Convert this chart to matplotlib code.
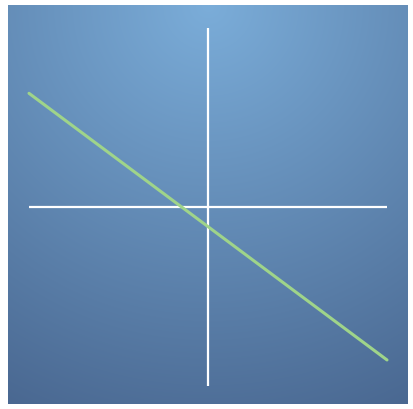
import numpy as np
import matplotlib
matplotlib.use("Agg")
import matplotlib.pyplot as plt

# ── Data ──────────────────────────────────────────────────────────────────────
axis_range = [-10, 10]
line_x = [-10, 10]
line_y = [6.35, -8.55]

BG_LIGHT = np.array([0x7b, 0xad, 0xd9]) / 255
BG_DARK = np.array([0x47, 0x64, 0x8d]) / 255

fig = plt.figure(figsize=(4.14, 4.10), dpi=100)
fig.patch.set_facecolor("white")

# ── Background: radial gradient, bright at top centre ─────────────────────────
bg = fig.add_axes([8 / 414, 5 / 410, 400 / 414, 399 / 410])
bg.set_axis_off()
h, w = 399, 400
yy, xx = np.mgrid[0:h, 0:w]
dist = np.hypot(xx - 200, yy - 0) / 470.0
dist = np.clip(dist, 0, 1)[..., None]
img = BG_LIGHT * (1 - dist) + BG_DARK * dist
bg.imshow(img, aspect="auto", extent=[0, 1, 0, 1], interpolation="bilinear")
bg.set_xlim(0, 1)
bg.set_ylim(0, 1)

# ── Plot ──────────────────────────────────────────────────────────────────────
ax = fig.add_axes([8 / 414, 3 / 410, 400 / 414, 399 / 410])
ax.patch.set_alpha(0)
ax.set_axis_off()
lim = 10 + 21 / 17.9
ax.set_xlim(-lim, lim)
ax.set_ylim(-lim + 0.05, lim)

ax.plot(axis_range, [0, 0], color="white", linewidth=1.6, solid_capstyle="butt")
ax.plot([0, 0], axis_range, color="white", linewidth=1.6, solid_capstyle="butt")
ax.plot(line_x, line_y, color="#9fd48a", linewidth=2.2, solid_capstyle="round")

fig.savefig("out.png", dpi=100)
